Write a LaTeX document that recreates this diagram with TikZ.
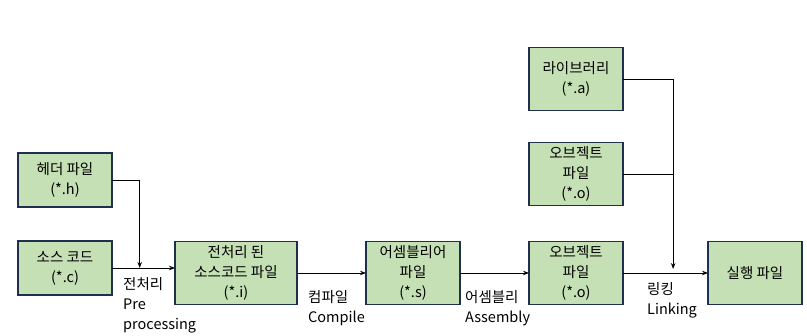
\documentclass[tikz,border=0pt]{standalone}
\usepackage{fontspec}
\setmainfont{Noto Sans CJK KR}
\usetikzlibrary{arrows.meta,positioning,calc}
\definecolor{boxfill}{HTML}{C5E0B4}
\definecolor{boxline}{HTML}{1F2F4F}

\begin{document}
\begin{tikzpicture}[
    x=1pt, y=1pt,
    node distance=34pt and 63pt,
    every node/.style={font=\fontsize{14.5}{20}\selectfont},
    filebox/.style={
      rectangle, draw=boxline, fill=boxfill, line width=1.1pt,
      minimum width=94pt, minimum height=63pt, outer sep=0pt,
      align=center, inner sep=2pt
    },
    smallbox/.style={filebox, minimum height=54pt},
    steplabel/.style={align=left, anchor=north west, inner sep=0pt},
    arr/.style={-{Stealth[length=6pt,width=4.5pt]}, line width=0.8pt},
    joinline/.style={line width=0.8pt}
  ]
    \useasboundingbox (0,0) rectangle (807,-336);

    % ── Source inputs ──
    \node[smallbox] (src) at (65,-268) {소스 코드\\(*.c)};
    \node[smallbox, above=34pt of src] (hdr) {헤더 파일\\(*.h)};

    % ── Build chain ──
    \node[filebox, minimum width=122pt, right=63pt of src, yshift=-5pt] (prei) {전처리 된\\소스코드 파일\\(*.i)};
    \node[filebox, right=69pt of prei] (asm) {어셈블리어\\파일\\(*.s)};
    \node[filebox, right=69pt of asm] (obj) {오브젝트\\파일\\(*.o)};
    \node[filebox, right=85pt of obj] (exe) {실행 파일};

    % ── Link inputs ──
    \node[filebox, above=36pt of obj] (objb) {오브젝트\\파일\\(*.o)};
    \node[filebox, above=32pt of objb] (lib) {라이브러리\\(*.a)};

    % ── Join points ──
    \coordinate (hjoin) at ($(src.east)!0.44!(src.east -| prei.west)$);
    \coordinate (ljoin) at ($(obj.east)!0.59!(exe.west)$);

    % ── Arrows ──
    \draw[arr] (src.east) -- (src.east -| prei.west);
    \draw[arr] (hdr.east) -| (hjoin);
    \draw[arr] (prei.east) -- (asm.west);
    \draw[arr] (asm.east) -- (obj.west);
    \draw[arr] (obj.east) -- (exe.west);
    \draw[arr, shorten >=4pt] (lib.east) -| (ljoin);
    \draw[joinline] (objb.east) -- (objb.east -| ljoin);

    % ── Step labels ──
    \node[steplabel] (lpre) at ($(src.east)+(11,-9)$) {전처리\\Pre\\processing};
    \node[steplabel] (lcomp) at ($(prei.east)+(11,-17)$) {컴파일\\Compile};
    \node[steplabel] (lasm) at ($(asm.east)+(5,-17)$) {어셈블리\\Assembly};
    \node[steplabel] (llink) at ($(obj.east)+(24,-9)$) {링킹\\Linking};

  \end{tikzpicture}
\end{document}
